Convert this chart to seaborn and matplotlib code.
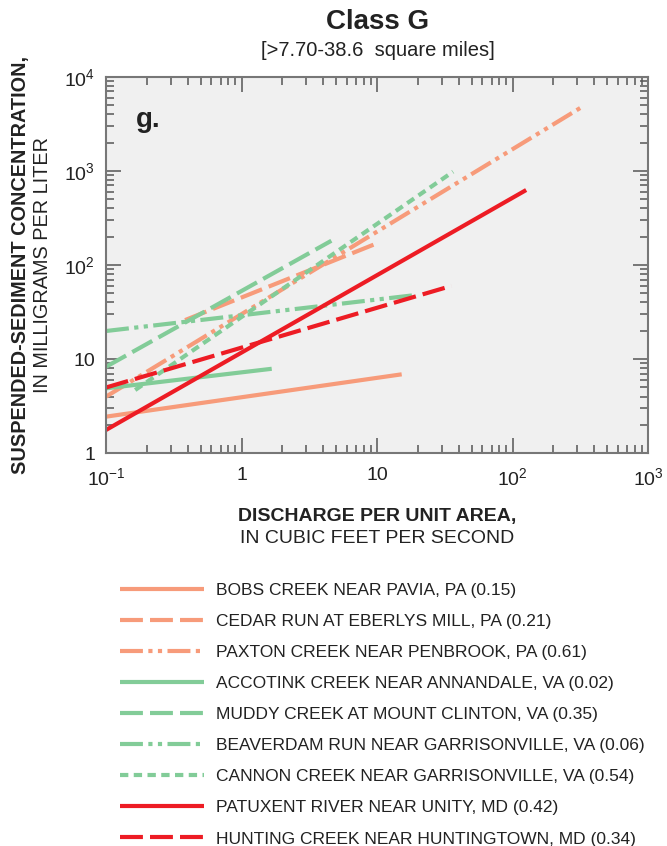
import seaborn as sns
import matplotlib
matplotlib.use('Agg')
import matplotlib.pyplot as plt
import numpy as np
import pandas as pd
from matplotlib import font_manager
from matplotlib.ticker import LogLocator, FixedLocator, NullFormatter

# Sites (legend order) with line endpoints
sites = [
    'BOBS CREEK NEAR PAVIA, PA (0.15)',
    'CEDAR RUN AT EBERLYS MILL, PA (0.21)',
    'PAXTON CREEK NEAR PENBROOK, PA (0.61)',
    'ACCOTINK CREEK NEAR ANNANDALE, VA (0.02)',
    'MUDDY CREEK AT MOUNT CLINTON, VA (0.35)',
    'BEAVERDAM RUN NEAR GARRISONVILLE, VA (0.06)',
    'CANNON CREEK NEAR GARRISONVILLE, VA (0.54)',
    'PATUXENT RIVER NEAR UNITY, MD (0.42)',
    'HUNTING CREEK NEAR HUNTINGTOWN, MD (0.34)',
]
x_start = [0.1, 0.383, 0.1, 0.1, 0.1, 0.1, 0.164, 0.1, 0.1]
x_end = [15.2, 10.5, 327, 1.67, 4.6, 19.3, 36.4, 126, 35.4]
y_start = [2.45, 26, 4.0, 4.9, 8.3, 19.9, 4.7, 1.77, 5.0]
y_end = [6.9, 175, 4800, 7.9, 181, 48, 980, 626, 60]

salmon = '#F79B7A'
green = '#82CC98'
red = '#ED1C24'
line_colors = [salmon, salmon, salmon, green, green, green, green, red, red]

# dash patterns in units of linewidth
solid = ''
dashed = (5.5, 1.7)
dashdotdot = (5.5, 1.3, 1.0, 1.3, 1.0, 1.3)
dotted = (2.0, 1.3)
line_dashes = [solid, dashed, dashdotdot, solid, dashed, dashdotdot, dotted, solid, dashed]

# pick fonts
available = {f.name for f in font_manager.fontManager.ttflist}
base_font = 'Liberation Sans' if 'Liberation Sans' in available else 'DejaVu Sans'
narrow_font = 'Liberation Sans Narrow' if 'Liberation Sans Narrow' in available else base_font

# long table for seaborn
rows = []
for s, x0, x1, y0, y1 in zip(sites, x_start, x_end, y_start, y_end):
    rows.append({'site': s, 'x': x0, 'y': y0})
    rows.append({'site': s, 'x': x1, 'y': y1})
df = pd.DataFrame(rows)

sns.set_style('ticks')
plt.rcParams['font.family'] = [base_font, 'DejaVu Sans']
plt.rcParams['mathtext.fontset'] = 'custom'
plt.rcParams['mathtext.rm'] = base_font
plt.rcParams['mathtext.it'] = base_font

fig = plt.figure(figsize=(6.67, 8.46), dpi=100)
ax = fig.add_axes([0.159, 0.4642, 0.8126, 0.4451])
ax.set_facecolor('#F0F0F0')

palette = dict(zip(sites, line_colors))
dash_map = dict(zip(sites, line_dashes))
sns.lineplot(data=df, x='x', y='y', hue='site', style='site', hue_order=sites,
             style_order=sites, palette=palette, dashes=dash_map,
             linewidth=3.0, estimator=None, sort=False, legend=True, ax=ax)
for ln in ax.get_lines():
    ln.set_solid_capstyle('butt')
    ln.set_dash_capstyle('butt')

ax.set_xscale('log')
ax.set_yscale('log')
ax.set_xlim(0.1, 1000)
ax.set_ylim(1, 10000)

ax.xaxis.set_major_locator(FixedLocator([0.1, 1, 10, 100, 1000]))
ax.xaxis.set_minor_locator(LogLocator(base=10, subs=np.arange(2, 10), numticks=20))
ax.yaxis.set_major_locator(FixedLocator([1, 10, 100, 1000, 10000]))
ax.yaxis.set_minor_locator(LogLocator(base=10, subs=np.arange(2, 10), numticks=20))
ax.xaxis.set_minor_formatter(NullFormatter())
ax.yaxis.set_minor_formatter(NullFormatter())
ax.set_xticklabels(['$10^{-1}$', '1', '10', '$10^{2}$', '$10^{3}$'])
ax.set_yticklabels(['1', '10', '$10^{2}$', '$10^{3}$', '$10^{4}$'])

ax.tick_params(which='both', direction='in', top=True, right=True, color='#555555', width=1.1)
ax.tick_params(which='major', length=11, labelsize=14, labelcolor='#222222')
ax.tick_params(which='minor', length=6)
ax.tick_params(axis='x', which='major', pad=10)
ax.tick_params(axis='y', which='major', pad=8)
for sp in ax.spines.values():
    sp.set_color('#777777')
    sp.set_linewidth(1.5)

ax.set_xlabel('')
ax.set_ylabel('')

ax.text(0.055, 0.885, 'g.', transform=ax.transAxes, fontsize=20, fontweight='bold',
        color='#222222', ha='left', va='center')

# titles
fig.text(0.566, 0.974, 'Class G', fontsize=20, fontweight='bold', ha='center', va='center', color='#222222')
fig.text(0.566, 0.94, '[>7.70-38.6  square miles]', fontsize=14.5, ha='center', va='center', color='#222222')

# axis labels
fig.text(0.566, 0.390, 'DISCHARGE PER UNIT AREA,', fontsize=14, fontweight='bold',
         family=narrow_font, ha='center', va='center', color='#222222')
fig.text(0.566, 0.364, 'IN CUBIC FEET PER SECOND', fontsize=14,
         family=narrow_font, ha='center', va='center', color='#222222')
fig.text(0.030, 0.687, 'SUSPENDED-SEDIMENT CONCENTRATION,', fontsize=14.3, fontweight='bold',
         family=narrow_font, rotation=90, ha='center', va='center', color='#222222')
fig.text(0.063, 0.687, 'IN MILLIGRAMS PER LITER', fontsize=14.3,
         family=narrow_font, rotation=90, ha='center', va='center', color='#222222')

# legend below the plot
handles, labels = ax.get_legend_handles_labels()
ax.get_legend().remove()
leg = fig.legend(handles, labels, loc='upper left', bbox_to_anchor=(0.180, 0.3108),
                 frameon=False, borderpad=0, borderaxespad=0, handlelength=4.84,
                 handletextpad=0.69, labelspacing=0.915,
                 prop={'family': narrow_font, 'size': 12.5})
for t in leg.get_texts():
    t.set_color('#222222')
for h in leg.legend_handles:
    h.set_linewidth(3.0)

fig.savefig('out.png', dpi=100)
